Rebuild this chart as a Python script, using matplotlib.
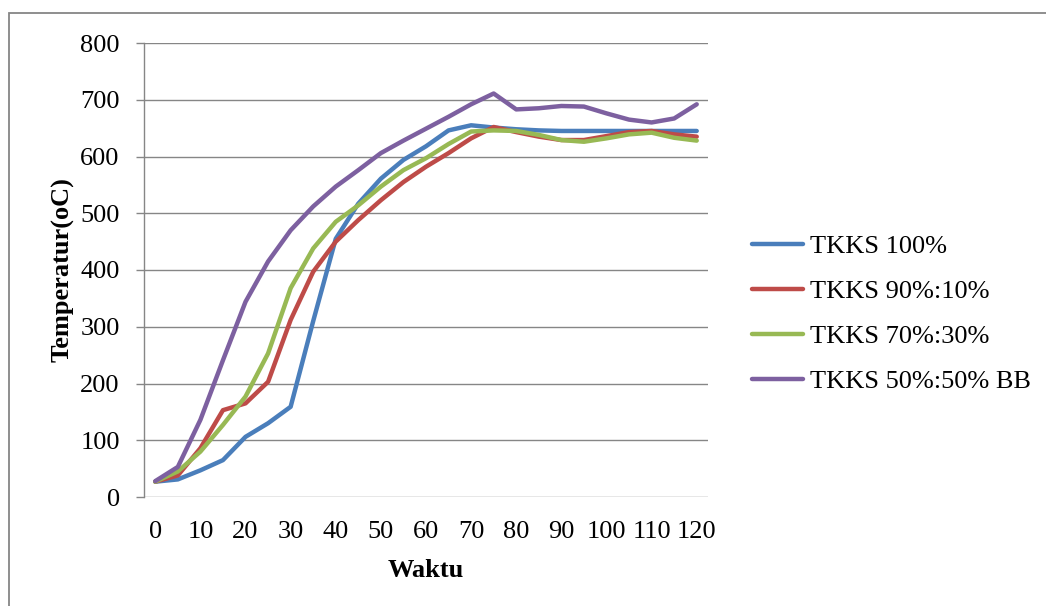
import matplotlib
matplotlib.use("Agg")
import matplotlib.pyplot as plt
from matplotlib.patches import Rectangle

# waktu (menit) dan temperatur tiap campuran
waktu = list(range(0, 125, 5))
tkks_100 = [27, 31, 47, 65, 106, 130, 159, 310, 455, 517, 561, 594, 618, 646, 655,
            651, 648, 646, 645, 645, 645, 645, 645, 645, 645]
tkks_90_10 = [27, 38, 86, 153, 165, 203, 312, 397, 450, 488, 523, 555, 582, 606, 632,
              652, 643, 635, 629, 629, 636, 643, 645, 639, 635]
tkks_70_30 = [27, 45, 80, 127, 177, 253, 368, 438, 485, 514, 547, 576, 597, 622, 644,
              646, 645, 638, 629, 626, 632, 639, 642, 633, 628]
tkks_50_50 = [28, 53, 136, 241, 344, 415, 470, 512, 547, 576, 606, 628, 649, 670, 692,
              711, 683, 685, 689, 688, 676, 665, 660, 667, 692]
labels = ["TKKS 100%", "TKKS 90%:10%", "TKKS 70%:30%", "TKKS 50%:50% BB"]
colors = ["#4A7EBB", "#BE4B48", "#98B954", "#7D60A0"]

plt.rcParams["font.family"] = ["Liberation Serif", "DejaVu Serif"]
grid_col = "#868686"

fig = plt.figure(figsize=(10.46, 6.06), dpi=100)
W, H = 1046, 606
ax = fig.add_axes([144 / W, 1 - 497 / H, (708 - 144) / W, (497 - 43) / H])

for y, lab, c in zip([tkks_100, tkks_90_10, tkks_70_30, tkks_50_50], labels, colors):
    ax.plot(waktu, y, color=c, lw=3.2, label=lab, solid_capstyle="round",
            solid_joinstyle="round")

ax.set_xlim(-2.5, 122.5)
ax.set_ylim(0, 800)
ax.set_yticks(range(0, 801, 100))
ax.set_xticks(range(0, 121, 10))
ax.tick_params(axis="y", length=5.5, width=1, color=grid_col, labelsize=19, pad=12)
ax.tick_params(axis="x", length=0, labelsize=19, pad=17)
ax.grid(axis="y", color=grid_col, lw=1)
ax.set_axisbelow(True)
for s in ["top", "right", "bottom"]:
    ax.spines[s].set_visible(False)
ax.spines["left"].set_color(grid_col)
ax.spines["left"].set_linewidth(1)

ax.set_xlabel("Waktu", fontsize=19, fontweight="bold", labelpad=12)
ax.set_ylabel("Temperatur(oC)", fontsize=19, fontweight="bold", labelpad=4)

fig.legend(loc="center left", bbox_to_anchor=(752 / W, 1 - 314 / H), frameon=False,
           fontsize=19, handlelength=1.95, handletextpad=0.25, labelspacing=0.81,
           borderpad=0, borderaxespad=0)

# bingkai luar chart
fig.add_artist(Rectangle((9 / W, -0.1), 1.2, 1 - 13 / H + 0.1, transform=fig.transFigure,
                         fill=False, ec=grid_col, lw=1.3))

fig.savefig("out.png", dpi=100)
